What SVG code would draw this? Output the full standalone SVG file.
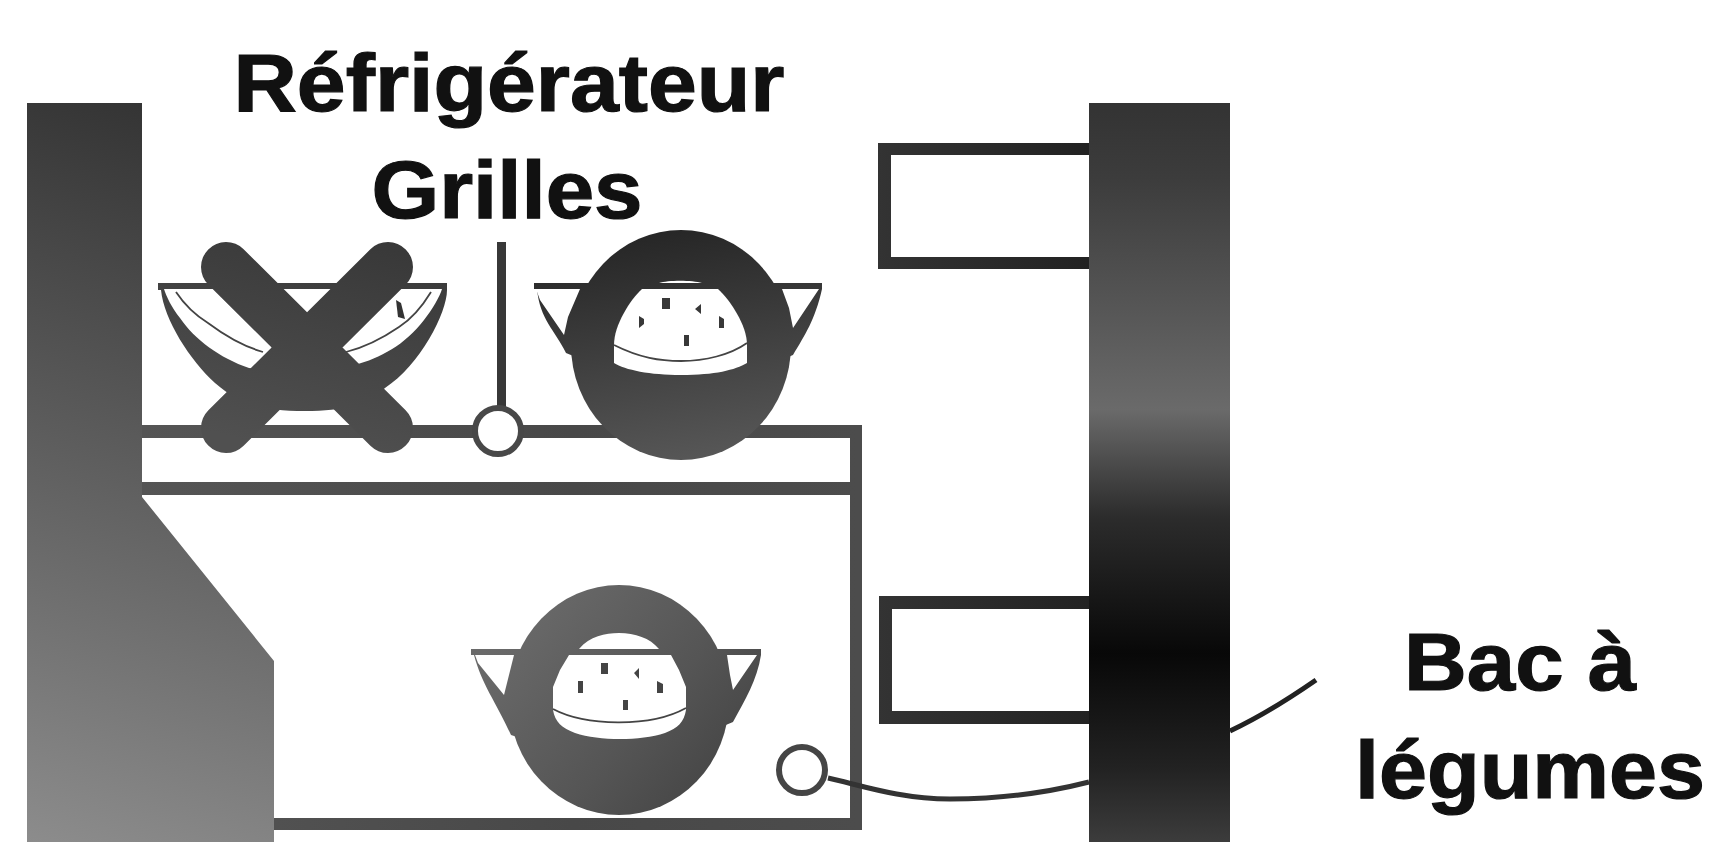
<svg xmlns="http://www.w3.org/2000/svg" width="1713" height="842" viewBox="0 0 1713 842">
<style>
text{font-family:"Liberation Sans",Arial,sans-serif;font-weight:700;font-size:81px;fill:#111;stroke:#111;stroke-width:1.2;text-anchor:middle}
.thin{fill:none;stroke:#444;stroke-width:1.8}
</style>
<defs>
<filter id="soft" x="0" y="0" width="100%" height="100%" color-interpolation-filters="sRGB"><feGaussianBlur stdDeviation="0.7"/></filter>
<linearGradient id="gL" gradientUnits="userSpaceOnUse" x1="240" y1="120" x2="30" y2="842"><stop offset="0" stop-color="#333"/><stop offset=".5" stop-color="#5f5f5f"/><stop offset="1" stop-color="#8c8c8c"/></linearGradient>
<linearGradient id="gR" gradientUnits="userSpaceOnUse" x1="0" y1="103" x2="0" y2="842"><stop offset="0" stop-color="#333"/><stop offset=".1" stop-color="#3c3c3c"/><stop offset=".415" stop-color="#6a6a6a"/><stop offset=".56" stop-color="#2c2c2c"/><stop offset=".745" stop-color="#080808"/><stop offset=".9" stop-color="#222"/><stop offset="1" stop-color="#3c3c3c"/></linearGradient>
<linearGradient id="gS" gradientUnits="userSpaceOnUse" x1="142" y1="430" x2="860" y2="430"><stop offset="0" stop-color="#555"/><stop offset=".6" stop-color="#484848"/><stop offset="1" stop-color="#4c4c4c"/></linearGradient>
<linearGradient id="gB" gradientUnits="userSpaceOnUse" x1="340" y1="230" x2="290" y2="450"><stop offset="0" stop-color="#383838"/><stop offset="1" stop-color="#505050"/></linearGradient>
<linearGradient id="gC" gradientUnits="userSpaceOnUse" x1="660" y1="230" x2="700" y2="460"><stop offset="0" stop-color="#262626"/><stop offset="1" stop-color="#575757"/></linearGradient>
<linearGradient id="gD" gradientUnits="userSpaceOnUse" x1="510" y1="620" x2="720" y2="800"><stop offset="0" stop-color="#6a6a6a"/><stop offset=".6" stop-color="#555"/><stop offset="1" stop-color="#444"/></linearGradient>
<linearGradient id="gT" gradientUnits="userSpaceOnUse" x1="878" y1="0" x2="1089" y2="0"><stop offset="0" stop-color="#333"/><stop offset="1" stop-color="#222"/></linearGradient>
</defs>
<rect width="1713" height="842" fill="#fff"/>
<g filter="url(#soft)">

<g id="shelf" fill="url(#gS)">
<rect x="142" y="425" width="720" height="13"/>
<rect x="142" y="482" width="720" height="13"/>
<rect x="850" y="425" width="12" height="405"/>
<rect x="274" y="818" width="588" height="12"/>
</g>

<g id="wall-left"><path d="M27 103H142V497L274 661V842H27Z" fill="url(#gL)"/></g>

<g id="drawer-top"><path d="M1089 143H878V269H1089V257H891V155H1089Z" fill="url(#gT)"/></g>
<g id="drawer-bottom"><path d="M1089 596H879V724H1089V711H892V609H1089Z" fill="url(#gT)"/></g>
<g id="wall-right"><rect x="1089" y="103" width="141" height="739" fill="url(#gR)"/></g>

<g id="bowl-crossed">
<path d="M158 283H447V290C447 313 420 365 385 388C365 405 345 411 305 411C265 411 240 405 215 383C190 360 164 320 161 290H158Z" fill="url(#gB)"/>
<path d="M164 289H442C440 296 432 310 424 320C405 345 380 358 355 365C320 372 285 372 249 368C220 358 195 340 180 318C172 308 166 296 164 289Z" fill="#fff"/>
<path class="thin" d="M176 292C188 310 200 318 208 323C228 338 245 347 263 352M431 292C420 310 410 320 399 327C380 340 362 348 346 352"/>
<path d="M396 300L401 303L405 319L398 317Z" fill="#333"/>
<path d="M226 267L388 428M388 267L226 428" stroke="url(#gB)" stroke-width="50" stroke-linecap="round" fill="none"/>
</g>

<g id="connector-pin-top">
<rect x="497" y="242" width="9" height="165" fill="#383838"/>
<circle cx="498" cy="431" r="23" fill="#fff" stroke="#484848" stroke-width="6"/>
</g>

<g id="bowl-round-top">
<path d="M534 283H822V289C815 320 805 335 793 355L681 400L566 353C555 330 540 320 537 289H534Z" fill="url(#gC)"/>
<path d="M536 289H580L568 317L564 335L540 300ZM782 289H819L793 328L789 308Z" fill="#fff"/>
<ellipse cx="681" cy="345" rx="110" ry="115" fill="url(#gC)"/>
<path d="M642 289H718C730 300 747 325 747 345V363C735 370 715 375 681 375C650 375 625 370 614 363V345C614 325 630 300 642 289Z" fill="#fff"/>
<path d="M659 283C668 280 692 280 702 283Z" fill="#fff"/>
<path class="thin" d="M614 345C640 358 660 361 681 361C705 361 730 355 747 343"/>
<path d="M662 298h8v11h-8zM695 309l6-5v10zM639 316l5 3v5l-5 4zM719 316l5 3v9h-5zM684 335h5v11h-5z" fill="#383838"/>
</g>

<g id="bowl-round-bottom">
<path d="M471 649H761V655C757 680 745 700 733 722L618 770L511 735C495 700 482 685 474 655H471Z" fill="url(#gD)"/>
<path d="M475 655H514L504 695L478 663ZM727 655H757L733 690L730 675Z" fill="#fff"/>
<ellipse cx="619" cy="700" rx="110" ry="115" fill="url(#gD)"/>
<path d="M579 649C590 636 605 633 619 633C635 633 650 638 659 649ZM569 655H671L679 670L686 687V710C684 722 678 728 665 733C640 741 600 741 575 733C562 728 555 722 553 710V687L560 670Z" fill="#fff"/>
<path class="thin" d="M553 709C585 726 650 728 686 708"/>
<path d="M601 663h7v11h-7zM634 673l5-5v11zM578 681h5v12h-5zM657 681l6 3v9h-6zM623 700h5v10h-5z" fill="#444"/>
</g>

<g id="connectors">
<circle cx="802" cy="770" r="23" fill="#fff" stroke="#454545" stroke-width="6"/>
<path d="M828 778C860 785 900 799 950 799C1000 799 1050 792 1089 782" fill="none" stroke="#333" stroke-width="5"/>
<path d="M1230 731C1260 717 1290 698 1316 680" fill="none" stroke="#222" stroke-width="5"/>
</g>

<g id="labels">
<text x="509" y="111" textLength="551" lengthAdjust="spacingAndGlyphs">Réfrigérateur</text>
<text x="507" y="218" textLength="271" lengthAdjust="spacingAndGlyphs">Grilles</text>
<text x="1520" y="690" textLength="232" lengthAdjust="spacingAndGlyphs">Bac à</text>
<text x="1530" y="798" textLength="350" lengthAdjust="spacingAndGlyphs">légumes</text>
</g>
</g>
</svg>
